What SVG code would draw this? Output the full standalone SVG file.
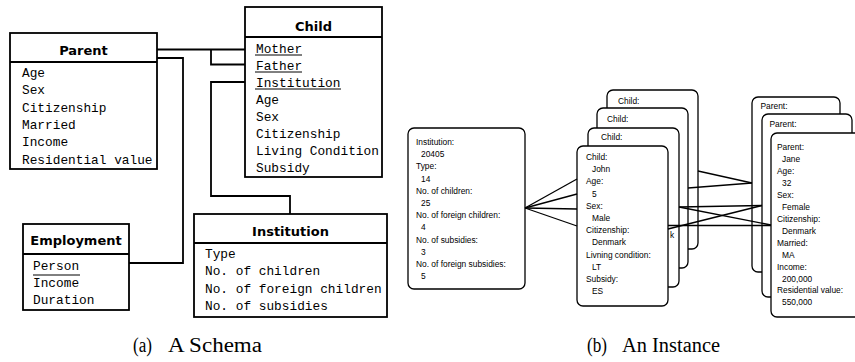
<svg xmlns="http://www.w3.org/2000/svg" width="855" height="362" viewBox="0 0 855 362">
  <style>
    .box { fill: #fff; stroke: #000; stroke-width: 1.8; }
    .sep { stroke: #000; stroke-width: 1.8; }
    .title { font-family: "DejaVu Sans", "Liberation Sans", sans-serif; font-weight: bold; font-size: 13px; text-anchor: middle; fill: #000; }
    .attr { font-family: "Liberation Mono", "DejaVu Sans Mono", monospace; font-size: 12.8px; fill: #000; }
    .key { stroke: #000; stroke-width: 1; }
    .card { fill: #fff; stroke: #000; stroke-width: 1.3; }
    .ct { font-family: "Liberation Sans", Arial, sans-serif; font-size: 8.4px; fill: #000; }
    .link { fill: none; stroke: #000; stroke-width: 1.8; }
    .ilink { fill: none; stroke: #000; stroke-width: 1.3; }
    .cap { font-family: "Liberation Serif", "DejaVu Serif", serif; font-size: 20px; fill: #000; }
  </style>

  <!-- ===== (a) schema ===== -->
  <g id="parent">
    <rect class="box" x="10" y="33" width="147" height="136"/>
    <line class="sep" x1="10" y1="62" x2="157" y2="62"/>
    <text class="title" x="83.5" y="55">Parent</text>
    <text class="attr" x="22" y="77">Age</text>
    <text class="attr" x="22" y="94.3">Sex</text>
    <text class="attr" x="22" y="111.6">Citizenship</text>
    <text class="attr" x="22" y="128.9">Married</text>
    <text class="attr" x="22" y="146.2">Income</text>
    <text class="attr" x="22" y="163.5">Residential value</text>
  </g>

  <g id="child">
    <rect class="box" x="245" y="7" width="137" height="170"/>
    <line class="sep" x1="245" y1="37" x2="382" y2="37"/>
    <text class="title" x="313.5" y="31">Child</text>
    <text class="attr" x="256" y="53">Mother</text>
    <text class="attr" x="256" y="70">Father</text>
    <text class="attr" x="256" y="87">Institution</text>
    <text class="attr" x="256" y="104">Age</text>
    <text class="attr" x="256" y="121">Sex</text>
    <text class="attr" x="256" y="138">Citizenship</text>
    <text class="attr" x="256" y="155">Living Condition</text>
    <text class="attr" x="256" y="172">Subsidy</text>
    <line class="key" x1="255" y1="55" x2="302" y2="55"/>
    <line class="key" x1="255" y1="72" x2="302" y2="72"/>
    <line class="key" x1="255" y1="89" x2="341" y2="89"/>
  </g>

  <g id="institution">
    <rect class="box" x="194" y="214" width="193" height="103"/>
    <line class="sep" x1="194" y1="243" x2="387" y2="243"/>
    <text class="title" x="290.5" y="236">Institution</text>
    <text class="attr" x="205" y="258">Type</text>
    <text class="attr" x="205" y="275.3">No. of children</text>
    <text class="attr" x="205" y="292.6">No. of foreign children</text>
    <text class="attr" x="205" y="309.9">No. of subsidies</text>
  </g>

  <g id="employment">
    <rect class="box" x="23" y="224" width="106" height="86"/>
    <line class="sep" x1="23" y1="254" x2="129" y2="254"/>
    <text class="title" x="76" y="245">Employment</text>
    <text class="attr" x="33" y="270">Person</text>
    <text class="attr" x="33" y="287">Income</text>
    <text class="attr" x="33" y="304">Duration</text>
    <line class="key" x1="33" y1="275" x2="80" y2="275"/>
  </g>

  <g id="schema-links">
    <polyline class="link" points="157,49.5 245,49.5"/>
    <polyline class="link" points="211,49.5 211,64.5 245,64.5"/>
    <polyline class="link" points="157,58 183,58 183,263 129,263"/>
    <polyline class="link" points="245,82 211,82 211,196 290,196 290,214"/>
  </g>

  <g id="caption-a">
    <text class="cap" x="133" y="352" textLength="19" lengthAdjust="spacingAndGlyphs">(a)</text>
    <text class="cap" x="168" y="352" textLength="94" lengthAdjust="spacingAndGlyphs">A Schema</text>
  </g>

  <!-- ===== (b) instance ===== -->
  <g id="inst-card">
    <rect class="card" x="408" y="128" width="117" height="161" rx="6"/>
    <text class="ct" x="416" y="145">Institution:</text>
    <text class="ct" x="421" y="157.2">20405</text>
    <text class="ct" x="416" y="169.4">Type:</text>
    <text class="ct" x="421" y="181.6">14</text>
    <text class="ct" x="416" y="193.8">No. of children:</text>
    <text class="ct" x="421" y="206">25</text>
    <text class="ct" x="416" y="218.2">No. of foreign children:</text>
    <text class="ct" x="421" y="230.4">4</text>
    <text class="ct" x="416" y="242.6">No. of subsidies:</text>
    <text class="ct" x="421" y="254.8">3</text>
    <text class="ct" x="416" y="267">No. of foreign subsidies:</text>
    <text class="ct" x="421" y="279.2">5</text>
  </g>

  <g id="child-4">
    <rect class="card" x="607" y="90" width="91" height="159" rx="6"/>
    <text class="ct" x="618" y="104">Child:</text>
  </g>
  <g id="child-3">
    <rect class="card" x="597" y="108" width="91" height="160" rx="6"/>
    <text class="ct" x="607" y="122">Child:</text>
  </g>
  <g id="child-2">
    <rect class="card" x="588" y="128" width="91" height="159" rx="6"/>
    <text class="ct" x="601" y="140">Child:</text>
    <text class="ct" x="670" y="238">k</text>
  </g>
  <g id="child-1">
    <rect class="card" x="577" y="146" width="91" height="160" rx="6"/>
    <text class="ct" x="586" y="160">Child:</text>
    <text class="ct" x="592" y="172.2">John</text>
    <text class="ct" x="586" y="184.4">Age:</text>
    <text class="ct" x="592" y="196.6">5</text>
    <text class="ct" x="586" y="208.8">Sex:</text>
    <text class="ct" x="592" y="221">Male</text>
    <text class="ct" x="586" y="233.2">Citizenship:</text>
    <text class="ct" x="592" y="245.4">Denmark</text>
    <text class="ct" x="586" y="257.6">Livning condition:</text>
    <text class="ct" x="592" y="269.8">LT</text>
    <text class="ct" x="586" y="282">Subsidy:</text>
    <text class="ct" x="592" y="294.2">ES</text>
  </g>

  <g id="parent-3">
    <rect class="card" x="752" y="97" width="88" height="175" rx="6"/>
    <text class="ct" x="760.5" y="109">Parent:</text>
  </g>
  <g id="parent-2">
    <rect class="card" x="762" y="114" width="90" height="183" rx="6"/>
    <text class="ct" x="769.5" y="127">Parent:</text>
  </g>
  <g id="parent-1">
    <rect class="card" x="771" y="133" width="95" height="184" rx="6"/>
    <text class="ct" x="777" y="150">Parent:</text>
    <text class="ct" x="782" y="162">Jane</text>
    <text class="ct" x="777" y="173.9">Age:</text>
    <text class="ct" x="782" y="185.9">32</text>
    <text class="ct" x="777" y="197.8">Sex:</text>
    <text class="ct" x="782" y="209.8">Female</text>
    <text class="ct" x="777" y="221.7">Citizenship:</text>
    <text class="ct" x="782" y="233.7">Denmark</text>
    <text class="ct" x="777" y="245.6">Married:</text>
    <text class="ct" x="782" y="257.6">MA</text>
    <text class="ct" x="777" y="269.5">Income:</text>
    <text class="ct" x="782" y="281.5">200,000</text>
    <text class="ct" x="777" y="293.4">Residential value:</text>
    <text class="ct" x="782" y="305.4">550,000</text>
  </g>

  <g id="instance-links">
    <line class="ilink" x1="525" y1="208" x2="577" y2="179"/>
    <line class="ilink" x1="525" y1="208" x2="577" y2="194"/>
    <line class="ilink" x1="525" y1="208" x2="577" y2="209"/>
    <line class="ilink" x1="525" y1="208" x2="577" y2="226"/>
    <line class="ilink" x1="698" y1="171" x2="752" y2="183"/>
    <line class="ilink" x1="688" y1="188" x2="752" y2="183"/>
    <line class="ilink" x1="679" y1="207" x2="762" y2="205.5"/>
    <line class="ilink" x1="679" y1="207" x2="771" y2="225"/>
    <line class="ilink" x1="668" y1="229" x2="762" y2="205.5"/>
    <line class="ilink" x1="668" y1="225.5" x2="771" y2="225.5"/>
  </g>

  <g id="caption-b">
    <text class="cap" x="587" y="352" textLength="20" lengthAdjust="spacingAndGlyphs">(b)</text>
    <text class="cap" x="622" y="352" textLength="98" lengthAdjust="spacingAndGlyphs">An Instance</text>
  </g>
</svg>
